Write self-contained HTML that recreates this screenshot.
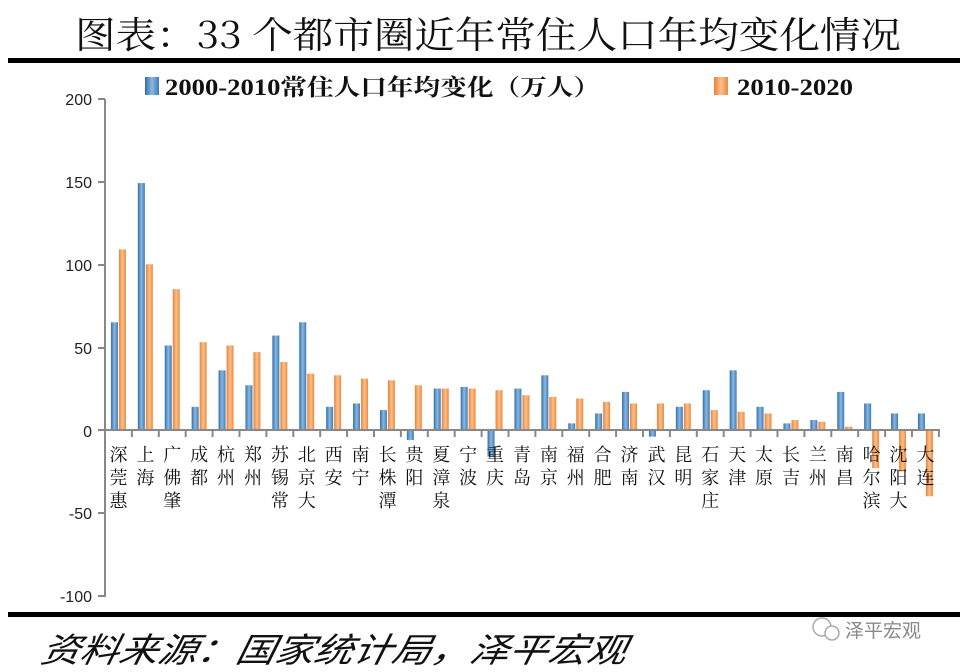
<!DOCTYPE html>
<html><head><meta charset="utf-8"><style>
body{margin:0;background:#fff;}
svg{display:block;}
</style></head><body>
<svg width="973" height="672" xmlns="http://www.w3.org/2000/svg">
<defs>
<linearGradient id="gb" x1="0" x2="1"><stop offset="0" stop-color="#2e6fae"/><stop offset="0.5" stop-color="#8db8de"/><stop offset="1" stop-color="#3c7bb8"/></linearGradient>
<linearGradient id="go" x1="0" x2="1"><stop offset="0" stop-color="#e8823a"/><stop offset="0.5" stop-color="#fbc08a"/><stop offset="1" stop-color="#ec8a40"/></linearGradient>
</defs>
<text x="75" y="48" textLength="826" lengthAdjust="spacingAndGlyphs" font-family="'Noto Serif CJK SC','Liberation Serif',serif" font-size="37" fill="#111">图表：33 个都市圈近年常住人口年均变化情况</text>
<rect x="8" y="58" width="952" height="5" fill="#000"/>
<rect x="145" y="77" width="14" height="18" fill="url(#gb)"/>
<text x="165" y="95" textLength="435" lengthAdjust="spacingAndGlyphs" font-family="'Liberation Serif','Noto Serif CJK SC',serif" font-weight="bold" font-size="23" fill="#111">2000-2010常住人口年均变化（万人）</text>
<rect x="714" y="77" width="14" height="18" fill="url(#go)"/>
<text x="737" y="95" textLength="116" lengthAdjust="spacingAndGlyphs" font-family="'Liberation Serif',serif" font-weight="bold" font-size="23" fill="#111">2010-2020</text>
<g font-family="'Liberation Sans',sans-serif" font-size="16" fill="#222" text-anchor="end">
<text x="92" y="105">200</text><text x="92" y="188">150</text><text x="92" y="271">100</text><text x="92" y="354">50</text><text x="92" y="437">0</text><text x="92" y="519">-50</text><text x="92" y="602">-100</text>
</g>
<g stroke="#888" stroke-width="2">
<line x1="105" y1="99" x2="105" y2="597"/>
<line x1="98" y1="99" x2="105" y2="99"/><line x1="98" y1="182" x2="105" y2="182"/><line x1="98" y1="265" x2="105" y2="265"/><line x1="98" y1="348" x2="105" y2="348"/><line x1="98" y1="513" x2="105" y2="513"/><line x1="98" y1="596" x2="105" y2="596"/>
</g>
<g id="bars"></g>
<line x1="98" y1="430" x2="940" y2="430" stroke="#888" stroke-width="2"/>
<g id="ticks" stroke="#888" stroke-width="2"></g>
<g id="labels" font-family="'Noto Serif CJK SC',serif" font-size="18" fill="#111" text-anchor="middle"></g>
<rect x="8" y="612" width="952" height="5" fill="#000"/>
<text x="180" y="662" textLength="585" lengthAdjust="spacingAndGlyphs" font-family="'Noto Sans CJK SC',sans-serif" font-style="italic" font-size="34" fill="#111" transform="skewX(-12)">资料来源：国家统计局，泽平宏观</text>
<text x="845" y="637" font-family="'Noto Sans CJK SC',sans-serif" font-size="19" fill="#888">泽平宏观</text>
<circle cx="822" cy="627" r="9" fill="none" stroke="#aaa" stroke-width="1.5"/><circle cx="832" cy="633" r="7" fill="#fff" stroke="#aaa" stroke-width="1.5"/>
</svg>
<script>
var d=[["深莞惠",65,109],["上海",149,100],["广佛肇",51,85],["成都",14,53],["杭州",36,51],["郑州",27,47],["苏锡常",57,41],["北京大",65,34],["西安",14,33],["南宁",16,31],["长株潭",12,30],["贵阳",-6,27],["夏漳泉",25,25],["宁波",26,25],["重庆",-16,24],["青岛",25,21],["南京",33,20],["福州",4,19],["合肥",10,17],["济南",23,16],["武汉",-4,16],["昆明",14,16],["石家庄",24,12],["天津",36,11],["太原",14,10],["长吉",4,6],["兰州",6,5],["南昌",23,2],["哈尔滨",16,-23],["沈阳大",10,-25],["大连",10,-40]];
var ns="http://www.w3.org/2000/svg",B=document.getElementById("bars"),T=document.getElementById("ticks"),L=document.getElementById("labels");
function el(t,a,p){var e=document.createElementNS(ns,t);for(var k in a)e.setAttribute(k,a[k]);p.appendChild(e);return e;}
var s=1.657,z=430;
d.forEach(function(r,i){var c=105+13.45+i*26.9;
[[r[1],c-7.5,"url(#gb)"],[r[2],c+0.5,"url(#go)"]].forEach(function(b){var h=b[0]*s;el("rect",{x:b[1],y:h>0?z-h:z,width:7,height:Math.abs(h),fill:b[2]},B);});
el("line",{x1:105+(i+1)*26.9,y1:430,x2:105+(i+1)*26.9,y2:437},T);
for(var j=0;j<r[0].length;j++){var t=el("text",{x:c,y:461+j*23},L);t.textContent=r[0][j];}
});
</script>
</body></html>
